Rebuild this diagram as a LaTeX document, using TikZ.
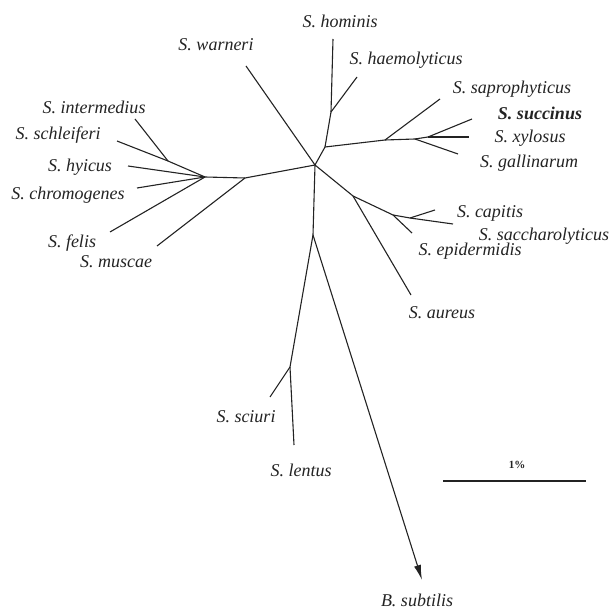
\documentclass[tikz,border=0pt]{standalone}
\usepackage{fontspec}
\setmainfont{Liberation Serif}
\definecolor{TreeGray}{RGB}{35, 35, 35}
\usepackage{tikz}
\usetikzlibrary{arrows.meta}

\begin{document}
\begin{tikzpicture}[x=1pt, y=-1pt, font=\fontsize{18}{20}\selectfont\itshape,
  branch/.style={draw=TreeGray, line width=1.1pt},
  taxon/.style={text=TreeGray, inner sep=0pt}]
\useasboundingbox (0,0) rectangle (613,609);
% inner nodes of the tree
\foreach \n/\x/\y in {c/315/165, n1/325/147, n2/331/112, k1/385/140, k2/415/139, k3/428/137,
  r1/353/196, r2/393/215, r3/410/218, l1/245/178, l2/205/177, l3/168/161, d1/313/235, d2/290/367}
  \coordinate (\n) at (\x,\y);
% tips
\foreach \n/\x/\y in {hom/333/39, hae/357/77, sap/440/99, suc/472/119, xyl/469/137, gal/458/154,
  cap/435/210, sac/453/224, epi/412/233, aur/411/295, war/246/66, int/135/119, sch/117/141,
  hyi/128/166, chr/137/188, fel/110/232, mus/157/246, sci/270/397, len/294/445, sub/422/580}
  \coordinate (t\n) at (\x,\y);
\foreach \a/\b in {c/n1, n1/n2, n2/thom, n2/thae, n1/k1, k1/tsap, k1/k2, k2/tgal, k2/k3, k3/txyl, k3/tsuc,
  c/r1, r1/taur, r1/r2, r2/tepi, r2/r3, r3/tcap, r3/tsac, c/twar, c/l1, l1/tmus, l1/l2, l2/tfel,
  l2/tchr, l2/thyi, l2/l3, l3/tsch, l3/tint, c/d1, d1/d2, d2/tsci, d2/tlen}
  \draw[branch] (\a) -- (\b);
\draw[branch, -{Latex[length=15pt, width=7pt]}] (d1) -- (tsub);
% species names
\foreach \n/\x/\y/\t in {hom/340/21/S. hominis, hae/406/60/S. haemolyticus, sap/512/89/S. saprophyticus,
  xyl/530/138/S. xylosus, gal/529/163/S. gallinarum, cap/490/213/S. capitis,
  sac/544/236/S. saccharolyticus, epi/470/251/S. epidermidis, aur/442/313/S. aureus,
  war/216/45/S. warneri, int/94/107/S. intermedius, sch/58/135/S. schleiferi, hyi/80/167/S. hyicus,
  chr/68/195/S. chromogenes, fel/72/243/S. felis, mus/116/262/S. muscae, sci/246/417/S. sciuri,
  len/301/470/S. lentus, sub/417/600/B. subtilis}
  \node[taxon] (lab\n) at (\x,\y) {\t};
\node[taxon, font=\fontsize{18}{20}\selectfont\bfseries\itshape] (labsuc) at (540,113) {S. succinus};
% scale bar
\coordinate (barL) at (443,481);
\coordinate (barR) at (586,481);
\draw[branch] (barL) -- (barR);
\node[taxon, font=\fontsize{11}{12}\selectfont\bfseries] (barlab) at (517,465) {1\%};
\end{tikzpicture}
\end{document}
